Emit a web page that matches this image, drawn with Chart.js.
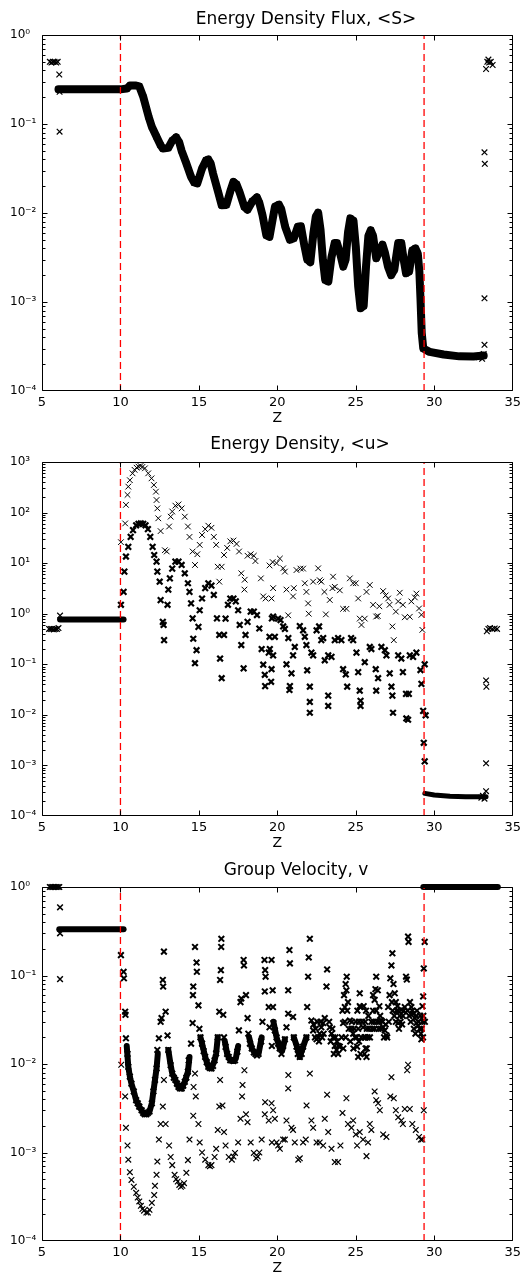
<!DOCTYPE html>
<html>
<head>
<meta charset="utf-8">
<script src="https://cdn.jsdelivr.net/npm/chart.js@4"></script>
<style>
  html, body { margin: 0; padding: 0; background: #ffffff; }
  canvas { position: absolute; left: 0; }
</style>
</head>
<body>
<canvas id="c1" width="525" height="425" style="top:0px"></canvas>
<canvas id="c2" width="525" height="425" style="top:425px"></canvas>
<canvas id="c3" width="525" height="427" style="top:850px"></canvas>
<script>
// ---------- shared ----------
const zTicks = [5, 10, 15, 20, 25, 30, 35];
const dividerZ = [10, 29.35];
const titles = ['Energy Density Flux, <S>', 'Energy Density, <u>', 'Group Velocity, v'];
const xLabel = 'Z';

// ---------- panel 1 : energy density flux <S> ----------
const fluxCurve = [[6.05,0.245],[7,0.245],[8,0.245],[9,0.245],[10,0.245],[10.4,0.25],[10.6,0.27],[11.0,0.27],[11.2,0.265],[11.46,0.2],[11.8,0.12],[12.0,0.093],[12.3,0.072],[12.55,0.058],[12.7,0.053],[13.05,0.054],[13.3,0.065],[13.55,0.071],[13.75,0.062],[13.9,0.05],[14.2,0.036],[14.5,0.0255],[14.7,0.022],[14.9,0.0215],[15.2,0.0316],[15.45,0.039],[15.6,0.04],[15.75,0.036],[15.9,0.0278],[16.25,0.0166],[16.45,0.0122],[16.75,0.0123],[17.0,0.0175],[17.2,0.0224],[17.4,0.021],[17.6,0.017],[17.9,0.0117],[18.1,0.0109],[18.4,0.0135],[18.7,0.015],[18.85,0.013],[19.05,0.0095],[19.3,0.0056],[19.5,0.0054],[19.7,0.0085],[19.85,0.0118],[20.1,0.0124],[20.25,0.011],[20.5,0.007],[20.8,0.005],[21.05,0.0052],[21.3,0.007],[21.5,0.0071],[21.7,0.0045],[21.9,0.003],[22.1,0.0028],[22.3,0.006],[22.45,0.0091],[22.6,0.0101],[22.75,0.0065],[22.9,0.003],[23.05,0.00176],[23.25,0.0017],[23.45,0.0032],[23.65,0.0046],[23.8,0.0046],[24.0,0.0035],[24.2,0.0025],[24.35,0.003],[24.5,0.006],[24.65,0.0087],[24.85,0.0082],[25.0,0.0042],[25.15,0.0015],[25.3,0.00085],[25.5,0.0009],[25.65,0.0025],[25.8,0.0055],[25.95,0.0064],[26.1,0.0055],[26.3,0.0031],[26.5,0.0037],[26.7,0.0044],[26.85,0.0036],[27.05,0.0025],[27.25,0.002],[27.45,0.0023],[27.7,0.0046],[27.9,0.0046],[28.05,0.003],[28.2,0.0021],[28.4,0.0022],[28.6,0.0038],[28.8,0.004],[28.95,0.0035],[29.05,0.0022],[29.12,0.0011],[29.2,0.00045],[29.3,0.0003],[29.7,0.000275],[30.6,0.000257],[31.6,0.000245],[32.5,0.000244],[33.15,0.00025]];
const fluxPoints = [[5.5,0.5],[5.6,0.49],[5.7,0.5],[5.8,0.5],[5.9,0.49],[6.0,0.5],[6.1,0.36],[6.12,0.23],[6.12,0.082],[32.85,0.00024],[32.95,0.00025],[33.05,0.00023],[33.15,0.00026],[33.2,0.00033],[33.2,0.0011],[33.2,0.048],[33.22,0.0357],[33.3,0.415],[33.38,0.5],[33.45,0.53],[33.5,0.49],[33.6,0.5],[33.72,0.46]];

// ---------- panel 2 : energy density <u> ----------
const uFlat = [[6.15,0.77],[10.2,0.77]];
const uBottom = [[29.4,0.00028],[30.0,0.00026],[31.0,0.000245],[32.0,0.00024],[33.3,0.00024]];
const uEdgePoints = [[5.45,0.5],[5.55,0.5],[5.65,0.5],[5.75,0.49],[5.85,0.5],[5.95,0.5],[6.05,0.52],[6.15,0.92],[33.0,0.00023],[33.1,0.00025],[33.2,0.00022],[33.3,0.00031],[33.3,0.0011],[33.3,0.048],[33.32,0.036],[33.35,0.45],[33.45,0.5],[33.55,0.52],[33.7,0.5],[33.85,0.51],[34.0,0.5]];
const uUpper = [[10.03,26],[10.3,61],[10.35,142],[10.45,224],[10.5,326],[10.6,437],[10.77,597],[10.9,700],[11.03,772],[11.15,810],[11.28,834],[11.4,800],[11.56,750],[11.77,597],[11.98,475],[12.13,351],[12.26,259],[12.3,177],[12.35,121],[12.41,77],[12.56,43],[12.83,18],[12.95,17],[13.1,53],[13.2,83],[13.3,105],[13.5,137],[13.7,145],[13.9,121],[14.1,83],[14.3,53],[14.4,33],[14.6,17],[14.75,9.2],[14.9,15],[15.05,23],[15.2,36],[15.4,47],[15.6,55],[15.8,50],[15.95,33],[16.1,23],[16.2,8.5],[16.3,4.3],[16.45,8.5],[16.6,14.5],[16.8,20],[17.0,27],[17.2,28],[17.4,24],[17.56,17],[17.7,6.3],[17.9,3],[17.92,4.7],[18.1,14],[18.3,15],[18.5,14],[18.6,11],[18.95,5],[19.1,2.2],[19.25,2],[19.5,9],[19.7,10.5],[19.63,2],[19.73,3.2],[19.95,10],[20.16,12.3],[20.37,7.9],[20.48,6.8],[20.58,3],[20.69,0.93],[21.0,2.2],[21.05,3.2],[21.22,7.3],[21.47,7.8],[21.64,7.8],[21.75,4],[21.85,2.7],[21.96,1.6],[22.0,1.0],[22.28,4.3],[22.6,7.9],[22.7,4.6],[22.8,4.3],[23.0,2.7],[23.09,0.97],[23.34,1.87],[23.55,5.4],[23.51,3.2],[23.66,3.4],[23.98,2.9],[24.19,1.25],[24.4,1.25],[24.62,5],[24.83,4],[25.0,4],[25.15,2],[25.25,0.8],[25.36,0.6],[25.57,0.8],[25.68,2.7],[25.89,3.7],[26.1,1.5],[26.3,0.88],[26.4,0.9],[26.5,1.4],[26.74,2.8],[26.9,2.3],[27.06,2],[27.15,1.5],[27.33,0.56],[27.42,0.3],[27.55,1.1],[27.7,1.75],[27.8,2.6],[28.0,1.5],[28.12,0.85],[28.44,0.87],[28.54,1.75],[28.76,2.1],[28.86,2.5],[29.03,1.27],[29.18,0.95],[29.24,0.48]];
const uLower = [[10.03,1.5],[10.2,2.7],[10.25,6.8],[10.35,13.5],[10.5,21],[10.65,33],[10.8,45],[11.0,56],[11.15,60],[11.3,61],[11.45,60],[11.6,56],[11.75,47],[11.9,33],[12.05,21],[12.15,14.5],[12.3,10.7],[12.35,6.8],[12.5,4.3],[12.56,1.86],[12.7,0.69],[12.75,0.6],[12.78,0.3],[13.0,1.5],[13.05,3],[13.15,5],[13.3,7.8],[13.5,10.7],[13.7,10.7],[13.9,9.2],[14.1,6.3],[14.3,4],[14.4,2.7],[14.5,1.6],[14.6,0.81],[14.64,0.32],[14.85,0.19],[14.75,0.105],[14.97,0.55],[15.05,1.17],[15.2,2],[15.4,3.2],[15.6,4],[15.8,3.6],[15.95,2.35],[16.15,0.81],[16.3,0.38],[16.35,0.13],[16.45,0.053],[16.6,0.38],[16.7,0.8],[16.85,1.5],[17.0,2],[17.2,2],[17.35,1.75],[17.5,1.17],[17.6,0.6],[17.7,0.24],[17.85,0.083],[17.97,0.38],[18.1,0.69],[18.3,1.1],[18.5,1.1],[18.7,0.94],[18.85,0.51],[19.0,0.2],[19.1,0.098],[19.2,0.062],[19.22,0.037],[19.45,0.17],[19.5,0.35],[19.65,0.81],[19.73,0.88],[20.05,0.8],[20.2,0.75],[20.37,0.56],[20.48,0.5],[19.52,0.2],[19.73,0.15],[19.63,0.08],[19.6,0.045],[19.84,0.35],[20.7,0.33],[20.58,0.1],[20.9,0.066],[20.8,0.037],[20.77,0.031],[21.11,0.22],[21.0,0.15],[21.43,0.57],[21.64,0.47],[21.75,0.35],[21.85,0.24],[21.9,0.076],[22.07,0.036],[22.07,0.018],[22.07,0.011],[22.17,0.17],[22.28,0.15],[22.5,0.47],[22.66,0.56],[22.8,0.3],[22.92,0.33],[23.02,0.12],[23.24,0.15],[23.24,0.024],[23.24,0.015],[23.45,0.14],[23.66,0.3],[23.87,0.33],[24.08,0.3],[24.19,0.08],[24.36,0.063],[24.45,0.036],[24.7,0.33],[24.83,0.3],[25.04,0.17],[25.15,0.07],[25.25,0.03],[25.3,0.019],[25.3,0.015],[25.57,0.11],[25.89,0.22],[25.99,0.2],[26.27,0.08],[26.42,0.053],[26.3,0.03],[26.63,0.22],[26.85,0.19],[26.95,0.15],[27.16,0.066],[27.27,0.036],[27.33,0.024],[27.37,0.011],[27.7,0.15],[27.9,0.13],[28.0,0.07],[28.2,0.026],[28.38,0.026],[28.33,0.008],[28.22,0.0085],[28.44,0.15],[28.65,0.14],[28.86,0.17],[29.12,0.077],[29.18,0.041],[29.29,0.012],[29.33,0.0028],[29.39,0.0012],[29.39,0.1],[29.45,0.0098]];

// ---------- panel 3 : group velocity v ----------
const vFlat = [[6.1,0.333],[10.2,0.333]];
const vTop = [[29.3,1],[34.05,1]];
const vEdgePoints = [[5.5,1],[5.6,1],[5.7,1],[5.8,1],[5.9,1],[6.0,1],[6.1,1],[6.15,0.59],[6.15,0.3],[6.15,0.091]];
const vWell1 = [[10.4,0.016],[10.5,0.0093],[10.6,0.0072],[10.7,0.006],[10.85,0.0049],[11.0,0.0039],[11.2,0.0033],[11.45,0.0028],[11.65,0.0027],[11.85,0.0029],[12.0,0.0036],[12.1,0.0049],[12.2,0.0066],[12.3,0.0089],[12.38,0.013]];
const vWell2 = [[13.05,0.0144],[13.2,0.0097],[13.3,0.0078],[13.5,0.0066],[13.7,0.0055],[13.9,0.0053],[14.1,0.0063],[14.3,0.0082],[14.4,0.012]];
const vWell3 = [[15.1,0.02],[15.2,0.017],[15.4,0.012],[15.6,0.0093],[15.8,0.0089],[16.0,0.011],[16.1,0.0132],[16.2,0.02]];
const vWell4 = [[16.65,0.018],[16.8,0.013],[17.0,0.011],[17.2,0.0108],[17.35,0.0115],[17.5,0.016]];
const vWell5 = [[18.2,0.02],[18.37,0.015],[18.6,0.013],[18.8,0.013],[19.0,0.02]];
const vWell6 = [[19.75,0.03],[19.95,0.02],[20.15,0.015],[20.3,0.014],[20.48,0.019]];
const vWell7 = [[21.05,0.02],[21.25,0.0157],[21.43,0.012],[21.64,0.0157],[21.85,0.02]];
const vUpper = [[10.03,0.17],[10.2,0.11],[10.22,0.093],[10.3,0.039],[10.32,0.036],[10.35,0.0195],[10.45,0.013],[10.5,0.0093],[10.6,0.0072],[10.7,0.006],[10.85,0.0049],[11.0,0.0039],[11.1,0.0036],[11.2,0.0033],[11.35,0.003],[11.45,0.0028],[11.55,0.0027],[11.65,0.0027],[11.75,0.0028],[11.85,0.0029],[12.0,0.0036],[12.1,0.0049],[12.2,0.0066],[12.3,0.0089],[12.35,0.0144],[12.45,0.0195],[12.56,0.03],[12.62,0.033],[12.7,0.089],[12.72,0.075],[12.77,0.186],[12.88,0.039],[13.0,0.021],[13.05,0.0144],[13.2,0.0097],[13.3,0.0078],[13.4,0.007],[13.5,0.0066],[13.6,0.006],[13.7,0.0055],[13.8,0.0053],[13.9,0.0053],[14.0,0.0057],[14.1,0.0063],[14.2,0.007],[14.3,0.0082],[14.35,0.011],[14.5,0.017],[14.6,0.029],[14.62,0.06],[14.64,0.075],[14.75,0.21],[14.85,0.14],[14.87,0.11],[14.97,0.046],[15.03,0.025],[15.1,0.02],[15.2,0.017],[15.3,0.014],[15.4,0.012],[15.5,0.0105],[15.6,0.0093],[15.7,0.009],[15.8,0.0089],[15.9,0.0095],[16.0,0.011],[16.1,0.0132],[16.2,0.02],[16.3,0.039],[16.35,0.089],[16.4,0.115],[16.42,0.21],[16.43,0.26],[16.55,0.036],[16.6,0.02],[16.7,0.0156],[16.8,0.013],[16.9,0.012],[17.0,0.011],[17.1,0.011],[17.2,0.0108],[17.3,0.011],[17.45,0.0138],[17.55,0.024],[17.65,0.05],[17.7,0.055],[17.85,0.15],[17.87,0.13],[18.0,0.06],[18.1,0.033],[18.15,0.022],[18.25,0.017],[18.37,0.015],[18.5,0.0135],[18.6,0.013],[18.7,0.0125],[18.8,0.013],[18.97,0.018],[19.05,0.03],[19.2,0.066],[19.18,0.15],[19.22,0.115],[19.25,0.097],[19.45,0.044],[19.5,0.026],[19.65,0.016],[19.63,0.15],[19.7,0.068],[19.72,0.044],[19.75,0.029],[19.84,0.024],[19.95,0.02],[20.05,0.017],[20.15,0.015],[20.26,0.013],[20.37,0.016],[20.48,0.019],[20.58,0.026],[20.69,0.037],[20.69,0.068],[20.8,0.137],[20.77,0.194],[21.0,0.034],[21.05,0.02],[21.22,0.0157],[21.3,0.013],[21.43,0.012],[21.55,0.013],[21.64,0.0157],[21.85,0.02],[21.9,0.044],[21.96,0.097],[22.0,0.16],[22.07,0.26],[22.17,0.031],[22.28,0.024],[22.3,0.028],[22.4,0.02],[22.45,0.025],[22.5,0.019],[22.55,0.03],[22.6,0.02],[22.65,0.018],[22.7,0.022],[22.75,0.03],[22.8,0.026],[22.85,0.02],[22.92,0.029],[22.95,0.022],[23.02,0.033],[23.13,0.075],[23.17,0.117],[23.3,0.03],[23.34,0.026],[23.4,0.018],[23.45,0.022],[23.5,0.025],[23.55,0.02],[23.6,0.013],[23.66,0.016],[23.7,0.02],[23.77,0.0144],[23.8,0.018],[23.87,0.013],[23.9,0.016],[23.98,0.0157],[24.1,0.02],[24.15,0.04],[24.19,0.029],[24.2,0.015],[24.25,0.06],[24.3,0.044],[24.3,0.03],[24.35,0.02],[24.35,0.08],[24.4,0.068],[24.42,0.097],[24.45,0.04],[24.5,0.05],[24.55,0.025],[24.62,0.031],[24.65,0.018],[24.72,0.025],[24.75,0.03],[24.83,0.022],[24.85,0.015],[24.9,0.025],[24.95,0.02],[25.0,0.03],[25.05,0.02],[25.08,0.0157],[25.1,0.04],[25.15,0.012],[25.15,0.025],[25.2,0.018],[25.2,0.03],[25.25,0.063],[25.25,0.045],[25.3,0.044],[25.3,0.013],[25.35,0.02],[25.4,0.03],[25.46,0.026],[25.5,0.045],[25.55,0.02],[25.55,0.013],[25.6,0.03],[25.6,0.02],[25.62,0.015],[25.65,0.04],[25.68,0.012],[25.7,0.025],[25.7,0.015],[25.75,0.02],[25.8,0.035],[25.85,0.025],[25.9,0.02],[25.99,0.03],[26.05,0.025],[26.1,0.04],[26.1,0.06],[26.15,0.03],[26.2,0.053],[26.2,0.025],[26.25,0.07],[26.3,0.097],[26.3,0.04],[26.35,0.03],[26.4,0.068],[26.45,0.025],[26.5,0.045],[26.5,0.03],[26.55,0.035],[26.6,0.025],[26.63,0.031],[26.7,0.03],[26.75,0.026],[26.8,0.02],[26.85,0.024],[26.9,0.028],[26.95,0.021],[27.0,0.02],[27.06,0.044],[27.1,0.03],[27.15,0.06],[27.2,0.093],[27.27,0.13],[27.3,0.05],[27.33,0.178],[27.35,0.04],[27.4,0.08],[27.45,0.035],[27.48,0.063],[27.55,0.03],[27.55,0.05],[27.6,0.04],[27.65,0.045],[27.7,0.029],[27.7,0.04],[27.75,0.025],[27.8,0.035],[27.85,0.03],[27.9,0.041],[27.95,0.028],[28.0,0.035],[28.05,0.04],[28.12,0.044],[28.2,0.097],[28.25,0.09],[28.3,0.04],[28.33,0.275],[28.36,0.24],[28.4,0.035],[28.45,0.05],[28.5,0.03],[28.54,0.044],[28.6,0.04],[28.65,0.037],[28.7,0.025],[28.76,0.033],[28.8,0.022],[28.85,0.035],[28.86,0.029],[28.9,0.04],[28.96,0.027],[29.0,0.03],[29.07,0.025],[29.1,0.035],[29.15,0.022],[29.18,0.019],[29.2,0.025],[29.25,0.03],[29.25,0.045],[29.28,0.02],[29.29,0.058],[29.3,0.035],[29.33,0.12],[29.39,0.24],[29.4,0.03]];
const vLower = [[10.05,0.0098],[10.3,0.0043],[10.35,0.0019],[10.45,0.0012],[10.5,0.00083],[10.6,0.0006],[10.7,0.00049],[10.85,0.00041],[11.0,0.00035],[11.1,0.00031],[11.2,0.00028],[11.3,0.00025],[11.4,0.00023],[11.5,0.00022],[11.65,0.00021],[11.75,0.00021],[11.85,0.000225],[12.0,0.00027],[12.15,0.00033],[12.2,0.00042],[12.3,0.00056],[12.35,0.00079],[12.45,0.0014],[12.56,0.0021],[12.7,0.0033],[12.77,0.0066],[12.88,0.0021],[13.1,0.0012],[13.2,0.00089],[13.3,0.00072],[13.45,0.00056],[13.55,0.0005],[13.65,0.00047],[13.75,0.00043],[13.85,0.00041],[13.95,0.00042],[14.05,0.00045],[14.2,0.00059],[14.3,0.00082],[14.4,0.0014],[14.64,0.0026],[14.66,0.0055],[14.75,0.0078],[14.8,0.0043],[14.97,0.0021],[15.05,0.0013],[15.2,0.001],[15.4,0.00083],[15.6,0.00072],[15.7,0.0007],[15.8,0.00072],[16.0,0.00089],[16.1,0.0011],[16.2,0.0018],[16.3,0.0033],[16.35,0.0066],[16.5,0.0034],[16.6,0.0017],[16.7,0.0012],[16.9,0.00089],[17.1,0.00083],[17.2,0.0009],[17.3,0.00099],[17.5,0.0013],[17.65,0.0024],[17.75,0.0043],[17.78,0.0058],[17.9,0.0085],[18.0,0.0027],[18.1,0.0022],[18.3,0.0013],[18.5,0.00099],[18.65,0.00086],[18.75,0.0009],[18.85,0.001],[19.0,0.0014],[19.2,0.0027],[19.22,0.0037],[19.45,0.0023],[19.65,0.0013],[19.63,0.0036],[19.73,0.003],[19.84,0.0024],[19.95,0.0013],[20.05,0.0012],[20.16,0.0011],[20.37,0.0014],[20.48,0.0014],[20.58,0.0023],[20.69,0.0053],[20.7,0.0075],[20.9,0.0019],[21.0,0.0018],[21.11,0.0013],[21.33,0.00083],[21.43,0.00086],[21.64,0.0013],[21.81,0.0014],[21.86,0.0034],[22.07,0.0078],[22.17,0.0023],[22.28,0.0019],[22.5,0.0013],[22.7,0.0013],[22.92,0.0012],[23.02,0.0024],[23.17,0.0045],[23.24,0.0017],[23.45,0.0011],[23.66,0.00078],[23.87,0.00078],[24.02,0.0012],[24.15,0.0028],[24.4,0.0041],[24.5,0.0021],[24.72,0.0019],[24.83,0.0023],[25.0,0.0016],[25.08,0.0012],[25.25,0.0017],[25.46,0.0014],[25.68,0.00091],[25.78,0.0013],[25.89,0.0021],[25.99,0.0018],[26.2,0.0049],[26.3,0.0039],[26.42,0.0036],[26.53,0.003],[26.74,0.0016],[26.95,0.0015],[27.2,0.0043],[27.27,0.0071],[27.42,0.0041],[27.55,0.003],[27.7,0.0025],[27.9,0.0023],[28.0,0.0021],[28.12,0.0031],[28.27,0.0085],[28.33,0.0098],[28.44,0.0031],[28.6,0.0021],[28.82,0.0018],[29.03,0.0015],[29.15,0.0014],[29.24,0.0014],[29.33,0.003]];

// ---------- helpers ----------
const FONT = 'DejaVu Sans';
const toXY = arr => arr.map(([x, y]) => ({ x, y }));
const SUP = { '-': '\u207B', '0': '\u2070', '1': '\u00B9', '2': '\u00B2', '3': '\u00B3', '4': '\u2074', '5': '\u2075', '6': '\u2076', '7': '\u2077', '8': '\u2078', '9': '\u2079' };
const supStr = n => String(n).split('').map(c => SUP[c]).join('');

function marks(arr, bw, clip) {
  const d = { data: toXY(arr), showLine: false, pointStyle: 'crossRot', pointRadius: 4, pointBorderWidth: bw,
    borderColor: '#000', backgroundColor: '#000', order: 2 };
  if (clip === false) d.clip = false;
  return d;
}
function band(arr, w, clip, withMarks) {
  const d = { data: toXY(arr), showLine: true, borderColor: '#000', backgroundColor: '#000', borderWidth: w,
    pointRadius: withMarks ? 4 : 0, pointStyle: 'crossRot', pointBorderWidth: 1.5,
    borderJoinStyle: 'round', borderCapStyle: 'round', order: 3 };
  if (clip === false) d.clip = false;
  return d;
}
function dividers(yMin, yMax) {
  return dividerZ.map(z => ({ data: [{ x: z, y: yMin }, { x: z, y: yMax }], showLine: true, borderColor: '#ff0000',
    borderWidth: 1.3, borderDash: [7, 4], pointRadius: 0, order: 0 }));
}

const framePlugin = {
  id: 'frame',
  afterDatasetsDraw(chart) {
    const { ctx, chartArea: a, scales: { x, y } } = chart;
    ctx.save();
    ctx.strokeStyle = '#000';
    ctx.lineWidth = 1;
    const L = Math.round(a.left) + 0.5, R = Math.round(a.right) - 0.5;
    const T = Math.round(a.top) + 0.5, B = Math.round(a.bottom) - 0.5;
    ctx.beginPath();
    ctx.rect(L, T, R - L, B - T);
    for (const v of zTicks) {
      const px = Math.min(R, Math.max(L, Math.round(x.getPixelForValue(v)) + 0.5));
      ctx.moveTo(px, B); ctx.lineTo(px, B - 5);
      ctx.moveTo(px, T); ctx.lineTo(px, T + 5);
    }
    const e0 = Math.round(Math.log10(y.min)), e1 = Math.round(Math.log10(y.max));
    for (let e = e0; e <= e1; e++) {
      for (let m = 1; m <= 9; m++) {
        const v = m * Math.pow(10, e);
        if (v > y.max * 1.0001) break;
        const py = Math.min(B, Math.max(T, Math.round(y.getPixelForValue(v)) + 0.5));
        const len = m === 1 ? 5 : 3;
        ctx.moveTo(L, py); ctx.lineTo(L + len, py);
        ctx.moveTo(R, py); ctx.lineTo(R - len, py);
      }
    }
    ctx.stroke();
    ctx.restore();
  },
  afterDraw(chart, args, o) {
    const ctx = chart.ctx;
    ctx.save();
    ctx.fillStyle = '#000';
    ctx.font = '17px "' + FONT + '"';
    ctx.textAlign = 'center';
    ctx.textBaseline = 'middle';
    ctx.fillText(o.text, o.tx, o.ty);
    ctx.restore();
  }
};

function options(yMin, yMax, title, tx, ty, padTop, axisH, zPad) {
  return {
    responsive: false, animation: false, events: [],
    layout: { padding: { left: 10, right: 12, top: padTop, bottom: 0 } },
    plugins: { legend: { display: false }, tooltip: { enabled: false }, title: { display: false },
      frame: { text: title, tx, ty } },
    scales: {
      x: { type: 'linear', min: 5, max: 35,
        grid: { display: false, drawTicks: false }, border: { display: false },
        ticks: { stepSize: 5, padding: 4, color: '#000', autoSkip: false, maxRotation: 0,
          font: { family: FONT, size: 13 } },
        title: { display: true, text: xLabel, color: '#000', font: { family: FONT, size: 14 },
          padding: { top: 0, bottom: zPad } },
        afterFit: s => { s.height = axisH; } },
      y: { type: 'logarithmic', min: yMin, max: yMax,
        grid: { display: false, drawTicks: false }, border: { display: false },
        ticks: { autoSkip: false, crossAlign: 'far', padding: 0, color: '#000',
          font: { family: FONT, size: 12 },
          callback: v => { const e = Math.log10(v); const r = Math.round(e);
            return Math.abs(e - r) < 1e-6 ? '10' + supStr(r) : ''; } },
        afterFit: s => { s.width = 32; } }
    }
  };
}

new Chart(document.getElementById('c1'), {
  type: 'scatter',
  data: { datasets: [
    ...dividers(1e-4, 1),
    band(fluxCurve, 8, true, true),
    marks(fluxPoints, 1.2)
  ] },
  options: options(1e-4, 1, titles[0], 306, 20, 35, 34, -2),
  plugins: [framePlugin]
});

new Chart(document.getElementById('c2'), {
  type: 'scatter',
  data: { datasets: [
    ...dividers(1e-4, 1e3),
    band(uFlat, 6, true, false),
    band(uBottom, 5, true, false),
    marks(uEdgePoints, 1.2),
    marks(uUpper, 1),
    marks(uLower, 2.2)
  ] },
  options: options(1e-4, 1e3, titles[1], 300, 20, 37, 34, -2),
  plugins: [framePlugin]
});

new Chart(document.getElementById('c3'), {
  type: 'scatter',
  data: { datasets: [
    ...dividers(1e-4, 1),
    band(vFlat, 6, true, false),
    band(vTop, 6, false, false),
    band(vWell1, 6, true, false),
    band(vWell2, 6, true, false),
    band(vWell3, 6, true, false),
    band(vWell4, 6, true, false),
    band(vWell5, 6, true, false),
    band(vWell6, 6, true, false),
    band(vWell7, 6, true, false),
    marks(vEdgePoints, 1.5, false),
    marks(vUpper, 2),
    marks(vLower, 1.2)
  ] },
  options: options(1e-4, 1, titles[2], 296, 21, 37, 36, 0),
  plugins: [framePlugin]
});
</script>
</body>
</html>
